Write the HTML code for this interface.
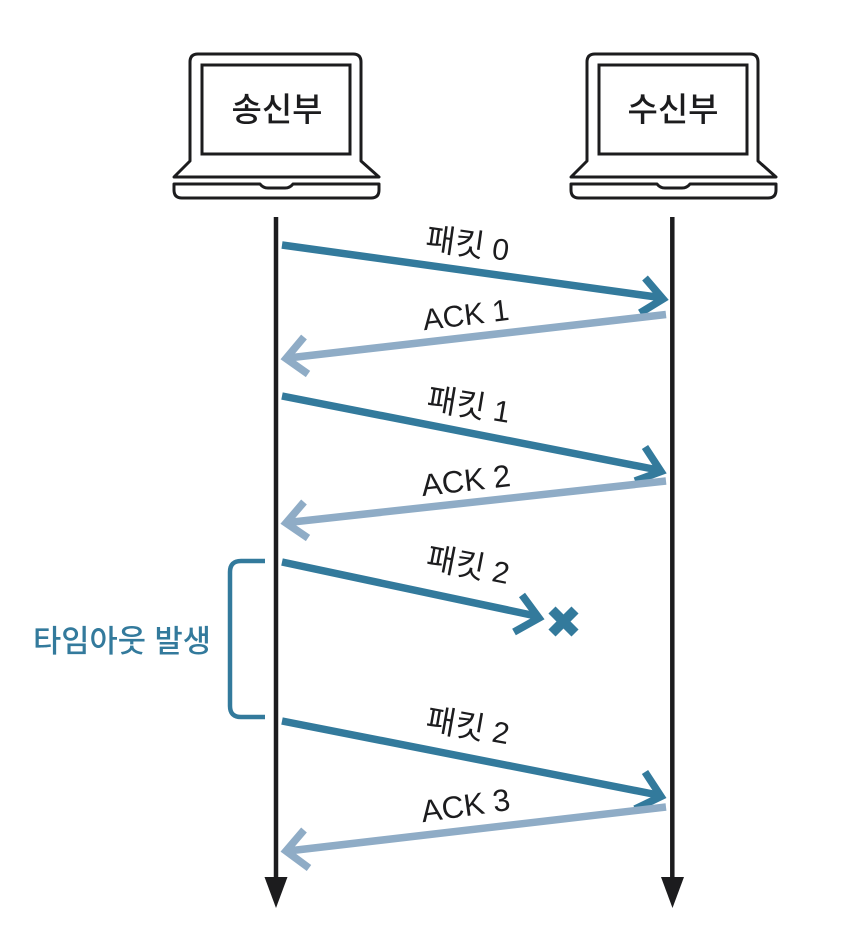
<!DOCTYPE html>
<html lang="ko">
<head>
<meta charset="utf-8">
<style>
html,body{margin:0;padding:0;background:#fff;width:844px;height:928px;overflow:hidden}
svg{display:block}
text{font-family:"Liberation Sans","Noto Sans CJK KR",sans-serif;fill:#1c1c1e}
.t{text-anchor:middle;font-family:"Noto Sans CJK KR","Liberation Sans",sans-serif;font-weight:500;font-size:33px}
.l{font-size:30px;text-anchor:middle;font-family:"Liberation Sans","Noto Sans CJK KR",sans-serif}
.l tspan{font-size:32px;font-family:"Noto Sans CJK KR",sans-serif;font-weight:400}
.b{stroke:#337a9c;stroke-width:7.500;fill:none;stroke-linejoin:miter}
.a{stroke:#8facc6;stroke-width:7.500;fill:none;stroke-linejoin:miter}
</style>
</head>
<body>
<svg width="844" height="928" viewBox="0 0 844 928" xmlns="http://www.w3.org/2000/svg">

<g fill="none" stroke="#1c1c1e" stroke-width="3">
  <path d="M190 161V62Q190 54 198 54H353Q361 54 361 62V161L379 177H174L190 161Z" stroke-linejoin="round"/>
  <rect x="202" y="65" width="148" height="89"/>
  <path d="M174 184H260Q263 188 268 188H285Q290 188 293 184H379V190Q379 198 371 198H182Q174 198 174 190Z" stroke-linejoin="round"/>
</g>
<g fill="none" stroke="#1c1c1e" stroke-width="3" transform="translate(397 0)">
  <path d="M190 161V62Q190 54 198 54H353Q361 54 361 62V161L379 177H174L190 161Z" stroke-linejoin="round"/>
  <rect x="202" y="65" width="148" height="89"/>
  <path d="M174 184H260Q263 188 268 188H285Q290 188 293 184H379V190Q379 198 371 198H182Q174 198 174 190Z" stroke-linejoin="round"/>
</g>
<text class="t" x="277" y="121">송신부</text>
<text class="t" x="673" y="121">수신부</text>

<path d="M276 217V880" stroke="#1c1c1e" stroke-width="4.500"/>
<path d="M672.300 217V880" stroke="#1c1c1e" stroke-width="4.500"/>
<path d="M264.500 877H287.500L276 908Z" fill="#1c1c1e"/>
<path d="M661 877H684L672.500 908Z" fill="#1c1c1e"/>

<!-- packet 0 -->
<path class="b" d="M282 245L660 297.500"/>
<path class="b" d="M645 278L663 299L640 313"/>
<text class="l" transform="translate(466 255) rotate(8)"><tspan>패킷</tspan> 0</text>
<!-- ack 1 -->
<path class="a" d="M666 314.500L288 358"/>
<path class="a" d="M304 337L286 358.500L308 374"/>
<text class="l" transform="translate(467 325) rotate(-7)">ACK 1</text>

<!-- packet 1 -->
<path class="b" d="M282 396L658 470"/>
<path class="b" d="M645 447L661 471.500L635 481"/>
<text class="l" transform="translate(467 416) rotate(9.500)"><tspan>패킷</tspan> 1</text>
<!-- ack 2 -->
<path class="a" d="M666 481L288 522.500"/>
<path class="a" d="M304 502L286 523L308 538"/>
<text class="l" style="font-size:31px" transform="translate(467 491) rotate(-6.500)">ACK 2</text>

<!-- packet 2 lost -->
<path class="b" d="M282 562L536 616"/>
<path class="b" d="M522 595L539 618L514 632"/>
<text class="l" transform="translate(466 576) rotate(11)"><tspan>패킷</tspan> 2</text>
<path d="M552 610L575 633M575 610L552 633" stroke="#337a9c" stroke-width="10" fill="none"/>

<!-- bracket -->
<path d="M265 561H241Q230 561 230 572V706Q230 717 241 717H265" stroke="#337a9c" stroke-width="4.500" fill="none"/>
<text x="122" y="652" text-anchor="middle" style="font-family:'Noto Sans CJK KR','Liberation Sans',sans-serif;font-size:31px;font-weight:500;fill:#337a9c" textLength="178" lengthAdjust="spacingAndGlyphs">타임아웃 발생</text>

<!-- packet 2 resend -->
<path class="b" d="M282 721L658 795"/>
<path class="b" d="M645 772L661 796.500L635 809"/>
<text class="l" transform="translate(466 737) rotate(10)"><tspan>패킷</tspan> 2</text>
<!-- ack 3 -->
<path class="a" d="M666 807L288 851"/>
<path class="a" d="M304 830L286 851L309 868"/>
<text class="l" style="font-size:31px" transform="translate(467 816) rotate(-8)">ACK 3</text>
</svg>
</body>
</html>
